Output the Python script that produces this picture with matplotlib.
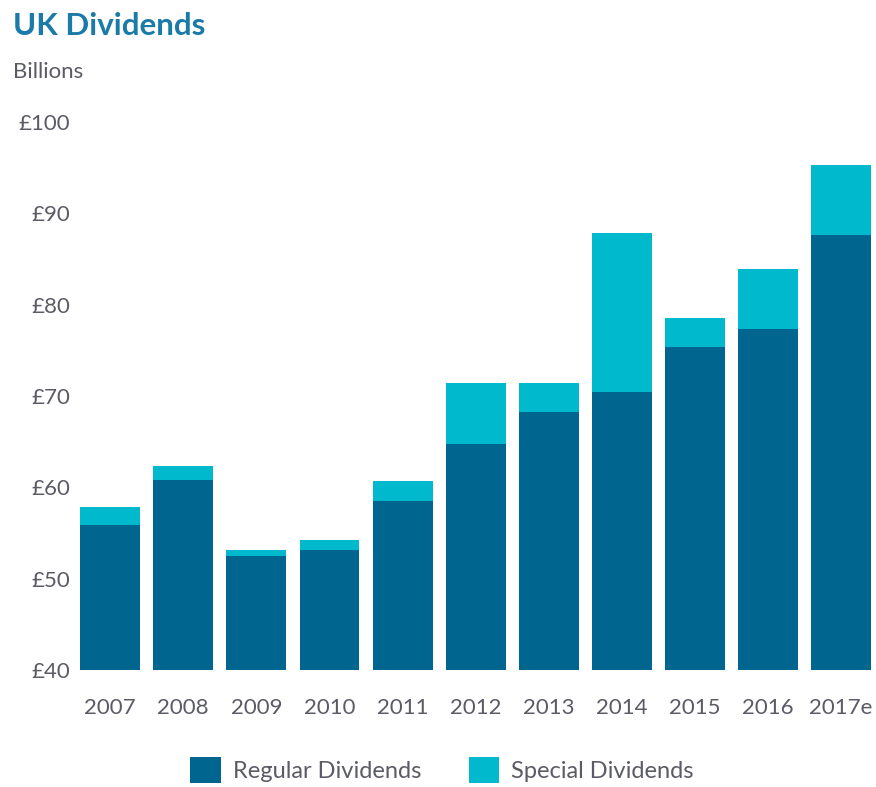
import matplotlib.pyplot as plt
import numpy as np

plt.rcParams['font.family'] = ['Lato', 'DejaVu Sans']

# values in £ billions
years = ['2007', '2008', '2009', '2010', '2011', '2012', '2013', '2014', '2015', '2016', '2017e']
regular = [55.9, 60.8, 52.5, 53.1, 58.5, 64.7, 68.2, 70.4, 75.4, 77.3, 87.6]
total = [57.9, 62.3, 53.1, 54.2, 60.7, 71.4, 71.4, 87.9, 78.5, 83.9, 95.3]
special = [t - r for t, r in zip(total, regular)]

yticks = [40, 50, 60, 70, 80, 90, 100]

dark = '#00668f'
cyan = '#00b9cc'
grey = '#5b5b66'

fig = plt.figure(figsize=(8.76, 7.87), dpi=100)
ax = fig.add_axes([70 / 876, 117 / 787, 804 / 876, 548 / 787])

x = np.arange(len(years))
base = 40
b1 = ax.bar(x, np.array(regular) - base, bottom=base, width=0.82, color=dark,
            label='Regular Dividends')
b2 = ax.bar(x, special, bottom=regular, width=0.82, color=cyan,
            label='Special Dividends')

ax.set_xlim(-0.55, 10.45)
ax.set_ylim(40, 100)
ax.set_yticks(yticks)
ax.set_yticklabels([f'£{v}' for v in yticks])
ax.set_xticks(x)
ax.set_xticklabels(years)
ax.tick_params(length=0, labelsize=16, colors=grey)
ax.tick_params(axis='x', pad=20)
ax.tick_params(axis='y', pad=0)
for s in ax.spines.values():
    s.set_visible(False)

fig.text(13 / 876, 1 - 26 / 787, 'UK Dividends', fontsize=22.5, fontweight='bold',
         color='#1a7aa8', va='center', ha='left')
fig.text(13 / 876, 1 - 72 / 787, 'Billions', fontsize=16, color=grey,
         va='center', ha='left')

fig.legend(handles=[b1, b2], loc='center', bbox_to_anchor=(442 / 876, 1 - 770 / 787),
           ncol=2, frameon=False, fontsize=17, labelcolor=grey,
           handlelength=1.3, handleheight=1.3, handletextpad=0.5, columnspacing=2.0)

fig.savefig('out.png', dpi=100)
